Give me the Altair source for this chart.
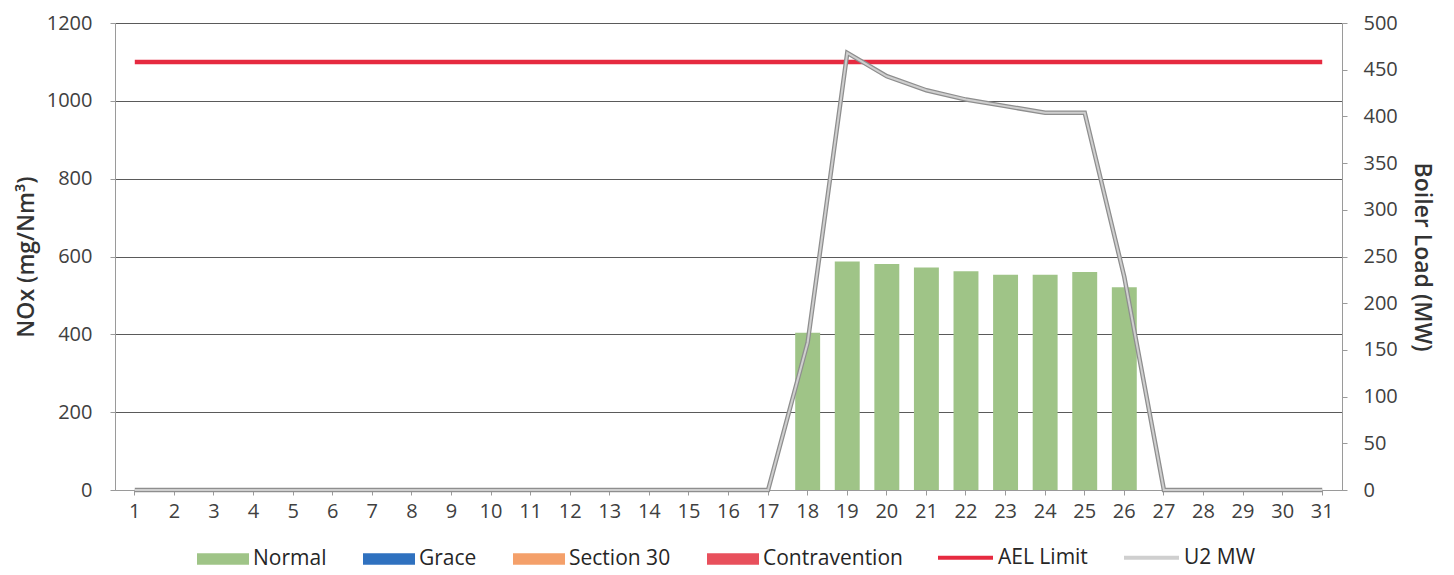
import altair as alt
import pandas as pd

days = list(range(1, 32))
nox = [None] * 17 + [404, 587, 581, 572, 562, 553, 553, 560, 521] + [None] * 5
u2_mw = [0] * 17 + [158, 468, 443, 428, 418, 411, 404, 404, 228] + [0] * 5
ael_limit = [1100] * 31
status = ["Normal"] * 31

bar_cats = ["Normal", "Grace", "Section 30", "Contravention"]
bar_colors = ["#9fc487", "#2f71bf", "#f4a06a", "#e8505c"]
line_cats = ["AEL Limit", "U2 MW"]
line_colors = ["#e62a40", "#cfcfcf"]

df = pd.DataFrame({"day": days, "nox": nox, "mw": u2_mw, "ael": ael_limit, "status": status})

FONT = "Open Sans"
x_enc = alt.X(
    "day:O",
    scale=alt.Scale(paddingInner=0.37, paddingOuter=0.185),
    axis=alt.Axis(title=None, labelAngle=0, labelFontSize=20, labelColor="#404040",
                  tickColor="#9a9a9a", tickSize=5, domainColor="#9a9a9a", labelPadding=6,
                  grid=False),
)

left_axis = alt.Axis(
    title="NOx (mg/Nm³)", values=list(range(0, 1201, 200)), format="d", grid=True,
    gridColor="#5a5a5a", gridWidth=1, domainColor="#9a9a9a", tickColor="#9a9a9a", tickSize=5,
    labelPadding=18, labelFontSize=20, labelColor="#404040", titleFontSize=23,
    titleFontWeight=600, titleColor="#333333", titlePadding=8,
)
right_axis = alt.Axis(
    title="Boiler Load (MW)", orient="right", values=list(range(0, 501, 50)), format="d",
    grid=False, domainColor="#9a9a9a", tickColor="#9a9a9a", tickSize=5, labelPadding=16,
    labelFontSize=20, labelColor="#404040", titleFontSize=23, titleFontWeight=600,
    titleColor="#333333", titlePadding=12,
)

bars = alt.Chart(df).mark_bar().encode(
    x=x_enc,
    y=alt.Y("nox:Q", scale=alt.Scale(domain=[0, 1200]), axis=left_axis),
    fill=alt.Fill(
        "status:N",
        scale=alt.Scale(domain=bar_cats, range=bar_colors),
        legend=alt.Legend(
            title=None, orient="none", legendX=82, legendY=510, direction="horizontal",
            symbolType="M-1,-0.22H1V0.22H-1Z", symbolSize=2704, symbolStrokeWidth=0,
            labelFontSize=21, labelColor="#262626", labelFont=FONT, columnPadding=36,
            labelOffset=4,
        ),
    ),
)

ael = alt.Chart(df).transform_calculate(series="'AEL Limit'").mark_line(strokeWidth=4.5).encode(
    x=x_enc,
    y=alt.Y("ael:Q", scale=alt.Scale(domain=[0, 1200]), axis=left_axis),
    stroke=alt.Stroke(
        "series:N",
        scale=alt.Scale(domain=line_cats, range=line_colors),
        legend=alt.Legend(
            title=None, orient="none", legendX=821, legendY=505, direction="horizontal",
            symbolType="stroke", symbolSize=3025, symbolStrokeWidth=4,
            labelFontSize=21, labelColor="#262626", labelFont=FONT, columnPadding=28,
            labelOffset=3,
        ),
    ),
)

mw_outline = alt.Chart(df).mark_line(strokeWidth=4.5, color="#8e8e8e").encode(
    x=x_enc,
    y=alt.Y("mw:Q", scale=alt.Scale(domain=[0, 500]), axis=right_axis),
)
mw_inner = alt.Chart(df).transform_calculate(series="'U2 MW'").mark_line(strokeWidth=2).encode(
    x=x_enc,
    y=alt.Y("mw:Q", scale=alt.Scale(domain=[0, 500]), axis=right_axis),
    stroke=alt.Stroke("series:N", scale=alt.Scale(domain=line_cats, range=line_colors)),
)

left = alt.layer(bars, ael)
right = alt.layer(mw_outline, mw_inner)

chart = (
    alt.layer(left, right)
    .resolve_scale(y="independent")
    .properties(
        width=1227, height=467,
        autosize=alt.AutoSizeParams(type="none"),
        padding={"left": 107, "top": 15, "right": 104, "bottom": 88},
    )
    .configure(font=FONT)
    .configure_view(stroke=None)
)

chart.save("out.html", embed_options={"renderer": "svg", "actions": False})
